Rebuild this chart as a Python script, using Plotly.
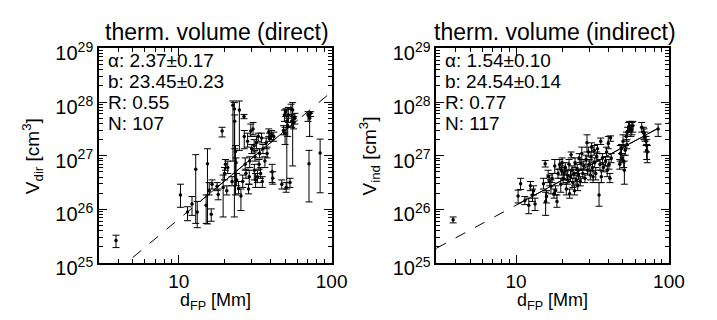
import numpy as np
import plotly.graph_objects as go

# ---------------- data: direct thermal volume ----------------
d_dir = [3.88, 10.25, 11.4, 12.2, 12.9, 13.2, 15.1, 15.4, 15.8, 16.3, 16.5, 17.8, 18.1, 19.2, 19.5,
         19.9, 20.2, 20.6, 20.9, 22.3, 22.6, 23.1, 23.2, 23.5, 23.7, 23.9, 24.6, 24.9, 25.5, 26.2,
         26.7, 26.8, 27.2, 27.5, 28.2, 28.6, 28.9, 29.1, 29.6, 30.0, 30.6, 31.1, 31.2, 31.5, 31.8,
         32.2, 32.7, 33.1, 33.5, 33.8, 34.3, 34.8, 35.2, 35.5, 36.6, 37.3, 37.8, 38.8, 39.2, 40.4,
         40.8, 41.2, 41.8, 47.2, 48.4, 49.1, 49.6, 50.1, 50.4, 50.9, 51.6, 52.1, 53.4, 54.2, 54.8,
         55.6, 56.4, 57.5, 70.1, 71.8, 72.9, 71.1, 84.1]
logv_dir = [25.42, 26.27, 25.95, 26.10, 26.75, 25.95, 26.08, 26.85, 26.35, 25.91, 26.47, 26.43, 26.28, 27.46, 26.41,
            26.67, 26.84, 26.35, 26.78, 26.52, 27.94, 27.87, 27.64, 27.08, 26.87, 26.55, 26.39, 27.85, 26.25, 26.52,
            27.73, 27.36, 26.84, 26.67, 27.27, 26.38, 26.61, 26.90, 27.46, 27.13, 27.50, 27.19, 26.73, 26.98, 26.55,
            27.24, 26.61, 27.36, 26.84, 27.04, 26.67, 27.33, 26.52, 27.13, 26.90, 27.24, 27.04, 27.44, 27.33, 27.39,
            26.70, 26.58, 27.36, 26.47, 27.47, 27.76, 27.42, 27.82, 26.41, 27.64, 27.56, 27.76, 26.50, 27.87, 27.64,
            27.85, 27.62, 27.70, 27.76, 27.70, 27.79, 26.85, 27.05]
logv_dir_hi = [25.52, 26.47, 26.05, 26.24, 27.02, 26.15, 26.27, 27.13, 26.50, 26.01, 26.55, 26.50, 26.38, 27.53, 26.64,
               26.78, 26.93, 26.44, 26.90, 26.61, 28.02, 27.99, 27.76, 27.19, 26.96, 26.67, 26.52, 28.02, 26.38, 26.64,
               27.77, 27.47, 26.96, 26.75, 27.42, 26.47, 26.73, 26.98, 27.59, 27.21, 27.62, 27.30, 26.84, 27.10, 26.67,
               27.36, 26.73, 27.42, 26.93, 27.13, 26.78, 27.42, 26.61, 27.21, 26.98, 27.33, 27.16, 27.50, 27.42, 27.47,
               26.84, 26.70, 27.44, 26.55, 27.56, 27.85, 27.53, 27.87, 26.50, 27.87, 27.70, 27.90, 26.58, 27.96, 27.76,
               27.99, 27.73, 27.79, 27.82, 27.79, 27.82, 27.10, 27.31]
logv_dir_lo = [25.29, 26.04, 25.79, 25.89, 25.74, 25.66, 25.74, 25.73, 26.27, 25.78, 26.38, 26.35, 26.18, 27.35, 25.86,
               26.55, 26.73, 26.27, 26.67, 26.44, 26.90, 25.86, 27.13, 26.27, 26.67, 26.44, 26.29, 27.10, 25.98, 26.41,
               27.69, 27.13, 26.73, 26.58, 27.16, 26.29, 26.47, 26.78, 27.36, 27.04, 27.39, 27.07, 26.55, 26.90, 26.41,
               27.13, 26.50, 27.27, 26.75, 26.96, 26.58, 27.24, 26.41, 27.04, 26.78, 27.13, 26.96, 27.36, 27.27, 27.30,
               26.50, 26.47, 27.27, 26.38, 27.39, 27.64, 27.21, 27.73, 26.32, 26.38, 27.36, 27.62, 26.41, 27.76, 27.53,
               26.81, 27.50, 27.59, 27.64, 27.36, 27.73, 26.14, 26.31]

# ---------------- data: indirect thermal volume ----------------
d_ind = [3.87, 10.3, 10.7, 11.4, 12.1, 12.4, 12.8, 13.0, 13.3, 15.1, 15.5, 15.6, 15.8, 16.2, 16.6,
         16.9, 17.2, 17.7, 17.9, 18.1, 18.5, 18.8, 19.3, 19.6, 19.8, 20.0, 20.3, 20.6, 21.0, 21.3,
         21.6, 21.8, 22.2, 22.4, 22.7, 22.9, 23.2, 23.5, 23.9, 24.1, 24.3, 24.7, 25.1, 25.3, 25.6,
         25.9, 26.3, 26.6, 26.9, 27.3, 27.7, 28.2, 28.7, 29.1, 29.4, 29.7, 30.1, 30.6, 30.9, 31.2,
         31.6, 31.9, 32.4, 32.7, 33.2, 33.7, 34.1, 34.9, 35.4, 35.8, 36.1, 36.7, 37.2, 38.5, 39.1,
         39.5, 40.1, 40.5, 41.1, 41.5, 41.9, 47.7, 48.1, 48.9, 49.3, 50.1, 50.6, 51.1, 51.8, 52.6,
         53.1, 53.7, 54.5, 55.3, 56.4, 57.2, 58.1, 66.4, 68.1, 68.7, 69.8, 70.8, 71.5, 71.5, 72.2, 85.0]
logv_ind = [25.81, 26.25, 26.48, 26.16, 26.08, 26.44, 26.27, 26.35, 26.10, 26.48, 26.85, 26.15, 26.24, 26.61, 26.52,
            26.43, 26.58, 26.29, 26.81, 26.35, 26.15, 26.67, 26.84, 26.47, 26.73, 26.87, 26.58, 26.67, 26.78, 26.38,
            26.64, 26.55, 26.84, 26.29, 26.61, 27.02, 26.73, 26.50, 26.67, 26.35, 26.87, 26.55, 26.75, 26.44, 26.64,
            26.96, 26.52, 26.85, 27.04, 26.67, 26.81, 26.58, 26.93, 27.24, 26.73, 27.07, 26.84, 26.64, 26.98, 27.16,
            26.78, 26.61, 27.10, 26.87, 26.67, 26.98, 27.13, 26.27, 26.84, 27.27, 26.61, 26.96, 26.78, 26.90, 27.07,
            26.73, 27.23, 26.84, 26.58, 27.33, 26.96, 26.84, 27.04, 27.13, 26.96, 27.27, 26.90, 26.73, 27.10, 27.36,
            27.21, 27.44, 27.53, 27.56, 27.47, 27.50, 27.56, 27.53, 27.44, 27.42, 27.36, 27.27, 27.19, 27.10, 27.07, 27.50]
logv_ind_hi = [25.86, 26.36, 26.58, 26.24, 26.21, 26.52, 26.38, 26.44, 26.21, 26.58, 26.91, 26.32, 26.35, 26.73, 26.64,
               26.55, 26.67, 26.38, 26.93, 26.44, 26.27, 26.75, 26.93, 26.58, 26.81, 26.96, 26.70, 26.75, 26.87, 26.50,
               26.73, 26.64, 26.93, 26.38, 26.73, 27.07, 26.81, 26.58, 26.75, 26.44, 26.96, 26.64, 26.84, 26.52, 26.73,
               27.04, 26.61, 26.93, 27.16, 26.75, 26.90, 26.67, 27.01, 27.39, 26.81, 27.16, 26.93, 26.73, 27.07, 27.24,
               26.87, 26.73, 27.19, 26.96, 26.78, 27.07, 27.21, 26.50, 26.93, 27.33, 26.73, 27.04, 26.87, 26.98, 27.16,
               26.81, 27.36, 26.93, 26.67, 27.37, 27.04, 26.93, 27.19, 27.21, 27.04, 27.39, 27.01, 26.90, 27.19, 27.44,
               27.30, 27.53, 27.62, 27.64, 27.56, 27.62, 27.64, 27.62, 27.53, 27.50, 27.44, 27.36, 27.30, 27.21, 27.19, 27.59]
logv_ind_lo = [25.75, 26.12, 26.37, 26.09, 25.92, 26.35, 26.15, 26.27, 25.98, 26.38, 26.79, 25.89, 26.12, 26.50, 26.44,
               26.29, 26.50, 26.21, 26.67, 26.27, 26.04, 26.58, 26.75, 26.32, 26.64, 26.78, 26.47, 26.55, 26.70, 26.27,
               26.55, 26.47, 26.73, 26.21, 26.52, 26.96, 26.64, 26.41, 26.58, 26.27, 26.78, 26.47, 26.67, 26.35, 26.55,
               26.87, 26.44, 26.75, 26.93, 26.58, 26.73, 26.50, 26.84, 27.07, 26.64, 26.98, 26.75, 26.55, 26.90, 27.07,
               26.70, 26.50, 27.01, 26.78, 26.55, 26.90, 27.04, 26.06, 26.73, 27.21, 26.50, 26.84, 26.70, 26.81, 26.98,
               26.61, 27.13, 26.75, 26.50, 27.27, 26.87, 26.75, 26.90, 27.04, 26.87, 27.16, 26.78, 26.47, 27.01, 27.27,
               27.13, 27.36, 27.44, 27.47, 27.36, 27.39, 27.44, 27.44, 27.33, 27.30, 27.27, 27.19, 27.07, 26.93, 26.87, 27.36]

# fit parameters  log V = b + alpha * log d
fit_dir = {"alpha": 2.37, "alpha_err": 0.17, "b": 23.45, "b_err": 0.23, "R": 0.55, "N": 107,
           "solid": (14.0, 60.0)}
fit_ind = {"alpha": 1.54, "alpha_err": 0.10, "b": 24.54, "b_err": 0.14, "R": 0.77, "N": 117,
           "solid": (10.3, 85.0)}

titles = ["therm. volume (direct)", "therm. volume (indirect)"]
ylabels = ["V<sub>dir</sub> [cm<sup>3</sup>]", "V<sub>ind</sub> [cm<sup>3</sup>]"]
xlabel = "d<sub>FP</sub> [Mm]"
x_range = (3.0, 100.0)
y_range_exp = (25, 29)

W, H = 717, 320
FONT = "Liberation Sans, Arial, Helvetica, sans-serif"
plot_px = [(93, 331), (438, 676)]
top_px, bot_px = 34, 267

fig = go.Figure()

panels = [(d_dir, logv_dir, logv_dir_hi, logv_dir_lo, fit_dir),
          (d_ind, logv_ind, logv_ind_hi, logv_ind_lo, fit_ind)]

for i, (d, lv, lvh, lvl, fit) in enumerate(panels):
    xa = "x" if i == 0 else "x2"
    ya = "y" if i == 0 else "y2"
    v = 10 ** np.array(lv)
    vh = 10 ** np.array(lvh)
    vl = 10 ** np.array(lvl)
    fig.add_trace(go.Scatter(
        x=d, y=v, mode="markers", xaxis=xa, yaxis=ya,
        marker=dict(color="black", size=3.5),
        error_y=dict(type="data", symmetric=False, array=vh - v, arrayminus=v - vl,
                     color="black", thickness=1, width=3.5),
        showlegend=False, hoverinfo="skip"))
    # fit line (dashed over full range, solid over data range)
    xf = np.logspace(np.log10(x_range[0]), np.log10(x_range[1]), 50)
    yf = 10 ** (fit["b"] + fit["alpha"] * np.log10(xf))
    fig.add_trace(go.Scatter(x=xf, y=yf, mode="lines", xaxis=xa, yaxis=ya,
                             line=dict(color="black", width=1, dash="11px,11px"),
                             showlegend=False, hoverinfo="skip"))
    xs = np.logspace(np.log10(fit["solid"][0]), np.log10(fit["solid"][1]), 20)
    ys = 10 ** (fit["b"] + fit["alpha"] * np.log10(xs))
    fig.add_trace(go.Scatter(x=xs, y=ys, mode="lines", xaxis=xa, yaxis=ya,
                             line=dict(color="black", width=1),
                             showlegend=False, hoverinfo="skip"))

x_minor = [4, 5, 6, 7, 8, 9, 20, 30, 40, 50, 60, 70, 80, 90]
y_major = [10.0 ** e for e in range(y_range_exp[0], y_range_exp[1] + 1)]
y_minor = [k * 10.0 ** e for e in range(y_range_exp[0], y_range_exp[1]) for k in range(2, 10)]
y_text = ["10<sup>%d</sup>" % e for e in range(y_range_exp[0], y_range_exp[1] + 1)]

ydom = [(H - bot_px) / H, (H - top_px) / H]
for i in range(2):
    sfx = "" if i == 0 else "2"
    x0, x1 = plot_px[i]
    fig.update_layout(**{
        "xaxis" + sfx: dict(
            type="log", domain=[x0 / W, x1 / W],
            range=[np.log10(x_range[0]), np.log10(x_range[1])],
            anchor="y" + sfx, showgrid=False, zeroline=False,
            showline=True, linecolor="black", linewidth=1.5, mirror="ticks",
            ticks="inside", ticklen=8, tickwidth=1, tickcolor="black",
            tickmode="array", tickvals=[10, 100], ticktext=["10", "100"],
            tickfont=dict(family=FONT, size=19, color="black"),
            minor=dict(ticks="inside", ticklen=4, tickwidth=1, tickcolor="black",
                       tickmode="array", tickvals=x_minor, showgrid=False)),
        "yaxis" + sfx: dict(
            type="log", domain=ydom,
            range=[y_range_exp[0], y_range_exp[1]],
            anchor="x" + sfx, showgrid=False, zeroline=False,
            showline=True, linecolor="black", linewidth=1.5, mirror="ticks",
            ticks="inside", ticklen=8, tickwidth=1, tickcolor="black",
            tickmode="array", tickvals=y_major, ticktext=y_text,
            ticklabelshift=5,
            tickfont=dict(family=FONT, size=20, color="black"),
            minor=dict(ticks="inside", ticklen=4, tickwidth=1, tickcolor="black",
                       tickmode="array", tickvals=y_minor, showgrid=False)),
    })

annotations = []
for i, fit in enumerate([fit_dir, fit_ind]):
    x0, x1 = plot_px[i]
    xc = (x0 + x1) / 2
    annotations.append(dict(text=titles[i], x=(xc + 2) / W, y=(H - 16) / H, xref="paper", yref="paper",
                            showarrow=False, xanchor="center", yanchor="middle",
                            font=dict(family=FONT, size=23, color="black")))
    lines = ["α: %.2f±%.2f" % (fit["alpha"], fit["alpha_err"]),
             "b: %.2f±%.2f" % (fit["b"], fit["b_err"]),
             "R: %.2f" % fit["R"],
             "N: %d" % fit["N"]]
    for j, t in enumerate(lines):
        annotations.append(dict(text=t, x=(x0 + 7) / W, y=(H - (47 + 22.7 * j)) / H,
                                xref="paper", yref="paper", showarrow=False,
                                xanchor="left", yanchor="middle",
                                font=dict(family=FONT, size=19, color="black")))
    annotations.append(dict(text=xlabel, x=xc / W, y=(H - 309) / H, xref="paper", yref="paper",
                            showarrow=False, xanchor="center", yanchor="middle",
                            font=dict(family=FONT, size=18, color="black")))
    annotations.append(dict(text=ylabels[i], x=(x0 - 68) / W, y=(H - (top_px + bot_px) / 2) / H,
                            xref="paper", yref="paper", showarrow=False, textangle=-90,
                            xanchor="center", yanchor="middle",
                            font=dict(family=FONT, size=19, color="black")))

fig.update_layout(width=W, height=H, margin=dict(l=0, r=0, t=0, b=0),
                  paper_bgcolor="white", plot_bgcolor="white",
                  annotations=annotations, showlegend=False)

fig.write_html("out.html")
